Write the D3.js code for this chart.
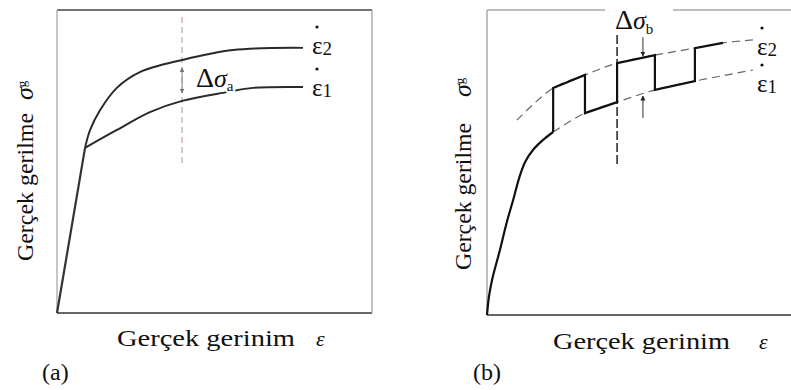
<!DOCTYPE html>
<html>
<head>
<meta charset="utf-8">
<script src="https://cdn.jsdelivr.net/npm/d3@7"></script>
<style>
  html, body { margin: 0; padding: 0; background: #fff; }
  svg { display: block; }
</style>
</head>
<body>
<svg id="chart" width="791" height="390"></svg>
<script>
// ---- Panel (a): flow curves at two strain rates ----
const elasticA = [[0, 0], [8.9, 54.5]];
const rate2A = [[8.9, 54.5], [10.5, 60.4], [13.7, 67.0], [19.0, 74.3], [26.3, 79.5], [39.7, 83.5], [55.9, 86.8], [78.1, 87.5]];
const rate1A = [[8.9, 54.5], [19.0, 60.4], [29.5, 66.3], [39.7, 70.0], [54.0, 72.9], [62.2, 74.3], [78.1, 74.6]];
const markerA = { x: 39.7, y0: 97.7, y1: 48.8, tip2: 80.9, tip1: 72.6 };

// ---- Panel (b): strain-rate jump test ----
const loadingB = [[0, 0], [0.6, 5.9], [1.6, 11.5], [4.1, 21.3], [6.3, 30.5], [8.3, 37.7], [10.2, 44.9],
                  [12.1, 50.2], [14.6, 54.1], [17.8, 57.4], [21.0, 60.0]];
const jumpsB = [[21.0, 60.0], [21.0, 74.4], [31.1, 78.7], [31.1, 66.2], [41.3, 69.8], [41.3, 82.6],
                [53.3, 85.2], [53.3, 73.8], [66.0, 76.7], [66.0, 87.5], [74.9, 89.2]];
const envelope2B = [[9.5, 63.9], [21.0, 74.4], [31.1, 78.7], [41.3, 82.6], [53.3, 85.2], [66.0, 87.5], [74.9, 89.2], [84.4, 90.2]];
const envelope1B = [[21.0, 60.0], [31.1, 66.2], [41.3, 69.8], [53.3, 73.8], [66.0, 76.7], [84.4, 80.3]];
const markerB = { x: 41.3, y0: 91.8, y1: 48.5, ax: 49.5, down: [91.1, 84.9], up: [64.6, 71.8] };

// ---- Text ----
const xLabel = "Gerçek gerinim";
const yLabel = "Gerçek gerilme";
const panelTags = ["(a)", "(b)"];

const FONT = "'Liberation Serif', 'DejaVu Serif', serif";
const svg = d3.select("#chart");

const defs = svg.append("defs");
function arrowMarker(id, color) {
  defs.append("marker")
    .attr("id", id).attr("viewBox", "0 0 10 10").attr("refX", 9).attr("refY", 5)
    .attr("markerWidth", 5).attr("markerHeight", 7).attr("markerUnits", "userSpaceOnUse")
    .attr("orient", "auto-start-reverse")
    .append("path").attr("d", "M0,0L10,5L0,10Z").attr("fill", color);
}
arrowMarker("arrGrey", "#777");
arrowMarker("arrBlack", "#222");

const lineSmooth = (x, y) => d3.line().x(d => x(d[0])).y(d => y(d[1])).curve(d3.curveCatmullRom.alpha(0.5));
const lineStraight = (x, y) => d3.line().x(d => x(d[0])).y(d => y(d[1]));

function txt(g) {
  return g.append("text").style("font-family", FONT).attr("fill", "#111");
}

// Epsilon-dot rate label
function rateLabel(g, x, y, sub) {
  const t = txt(g).attr("x", x).attr("y", y).attr("font-size", 25);
  t.append("tspan").text("ε");
  t.append("tspan").attr("font-size", 19).attr("dy", 1).text(sub);
  g.append("circle").attr("cx", x + 5).attr("cy", y - 27).attr("r", 1.6).attr("fill", "#111");
}

// Axis titles shared by both panels
function axisTitles(g, xl, xr, xBase, epsX, yBaseX, yStart, yEnd, sigY) {
  txt(g).attr("x", xl).attr("y", xBase).attr("font-size", 24)
    .attr("textLength", xr - xl).attr("lengthAdjust", "spacingAndGlyphs").text(xLabel);
  txt(g).attr("x", epsX).attr("y", xBase).attr("font-size", 22)
    .attr("font-style", "italic").text("ε");
  txt(g).attr("transform", `translate(${yBaseX},${yStart}) rotate(-90)`)
    .attr("font-size", 24).attr("textLength", yStart - yEnd).attr("lengthAdjust", "spacingAndGlyphs")
    .text(yLabel);
  const s = txt(g).attr("transform", `translate(${yBaseX},${sigY}) rotate(-90)`).attr("font-size", 26);
  s.append("tspan").attr("font-style", "italic").text("σ");
  s.append("tspan").attr("font-size", 13).attr("dy", -7).text("g");
}

// ================= Panel (a) =================
{
  const x = d3.scaleLinear([0, 100], [57, 372]);
  const y = d3.scaleLinear([0, 100], [313, 10]);
  const g = svg.append("g");

  // frame
  g.append("line").attr("x1", x(0)).attr("x2", x(100)).attr("y1", y(100)).attr("y2", y(100)).attr("stroke", "#444").attr("stroke-width", 1.5);
  g.append("line").attr("x1", x(0)).attr("x2", x(100)).attr("y1", y(0)).attr("y2", y(0)).attr("stroke", "#333").attr("stroke-width", 1.5);
  g.append("line").attr("x1", x(0)).attr("x2", x(0)).attr("y1", y(0)).attr("y2", y(100)).attr("stroke", "#b8b0b8").attr("stroke-width", 1.5);
  g.append("line").attr("x1", x(100)).attr("x2", x(100)).attr("y1", y(0)).attr("y2", y(100)).attr("stroke", "#999").attr("stroke-width", 1.2);

  // dashed reference strain
  g.append("line").attr("x1", x(markerA.x)).attr("x2", x(markerA.x)).attr("y1", y(markerA.y0)).attr("y2", y(markerA.y1))
    .attr("stroke", "#d4b8c4").attr("stroke-width", 1.6).attr("stroke-dasharray", "6,4");

  // curves
  g.append("path").datum(elasticA).attr("d", lineStraight(x, y)).attr("fill", "none").attr("stroke", "#333").attr("stroke-width", 2.2);
  g.append("path").datum(rate2A).attr("d", lineSmooth(x, y)).attr("fill", "none").attr("stroke", "#2a2a2a").attr("stroke-width", 2);
  g.append("path").datum(rate1A).attr("d", lineSmooth(x, y)).attr("fill", "none").attr("stroke", "#2a2a2a").attr("stroke-width", 2);

  // stress difference arrows
  const mid = (markerA.tip2 + markerA.tip1) / 2;
  g.append("line").attr("x1", x(markerA.x)).attr("x2", x(markerA.x)).attr("y1", y(mid)).attr("y2", y(markerA.tip2))
    .attr("stroke", "#888").attr("stroke-width", 1).attr("marker-end", "url(#arrGrey)");
  g.append("line").attr("x1", x(markerA.x)).attr("x2", x(markerA.x)).attr("y1", y(mid)).attr("y2", y(markerA.tip1))
    .attr("stroke", "#888").attr("stroke-width", 1).attr("marker-end", "url(#arrGrey)");

  // Δσ label with white halo over the curve
  const d = txt(g).attr("x", 196).attr("y", 87).attr("font-size", 28)
    .attr("stroke", "#fff").attr("stroke-width", 4).attr("paint-order", "stroke");
  d.append("tspan").text("Δ");
  d.append("tspan").attr("font-style", "italic").attr("font-size", 26).text("σ");
  d.append("tspan").attr("font-size", 15).attr("dy", 4).text("a");

  rateLabel(g, 312, 54, "2");
  rateLabel(g, 312, 96, "1");

  axisTitles(g, 117, 295, 346, 316, 33, 261, 113, 100);
  txt(g).attr("x", 42).attr("y", 380).attr("font-size", 24).text(panelTags[0]);
}

// ================= Panel (b) =================
{
  const x = d3.scaleLinear([0, 100], [487, 802]);
  const y = d3.scaleLinear([0, 100], [315, 10]);
  const g = svg.append("g");

  // frame (top rule broken around the label)
  g.append("line").attr("x1", x(0)).attr("x2", 605).attr("y1", y(100)).attr("y2", y(100)).attr("stroke", "#aaa").attr("stroke-width", 1.5);
  g.append("line").attr("x1", 673).attr("x2", x(100)).attr("y1", y(100)).attr("y2", y(100)).attr("stroke", "#aaa").attr("stroke-width", 1.5);
  g.append("line").attr("x1", x(0)).attr("x2", x(100)).attr("y1", y(0)).attr("y2", y(0)).attr("stroke", "#333").attr("stroke-width", 1.5);
  g.append("line").attr("x1", x(0)).attr("x2", x(0)).attr("y1", y(0)).attr("y2", y(100)).attr("stroke", "#aaa").attr("stroke-width", 1.5);

  // envelopes of the two strain rates
  [envelope2B, envelope1B].forEach(env => {
    g.append("path").datum(env).attr("d", lineSmooth(x, y)).attr("fill", "none")
      .attr("stroke", "#666").attr("stroke-width", 1.2).attr("stroke-dasharray", "8,5");
  });

  // dashed reference strain
  g.append("line").attr("x1", x(markerB.x)).attr("x2", x(markerB.x)).attr("y1", y(markerB.y0)).attr("y2", y(markerB.y1))
    .attr("stroke", "#111").attr("stroke-width", 1.4).attr("stroke-dasharray", "9,3");

  // loading curve and rate jumps
  g.append("path").datum(loadingB).attr("d", lineSmooth(x, y)).attr("fill", "none").attr("stroke", "#111").attr("stroke-width", 2.2);
  g.append("path").datum(jumpsB).attr("d", lineStraight(x, y)).attr("fill", "none").attr("stroke", "#111").attr("stroke-width", 2.2)
    .attr("stroke-linejoin", "miter");

  // stress difference arrows
  g.append("line").attr("x1", x(markerB.ax)).attr("x2", x(markerB.ax)).attr("y1", y(markerB.down[0])).attr("y2", y(markerB.down[1]))
    .attr("stroke", "#333").attr("stroke-width", 1).attr("marker-end", "url(#arrBlack)");
  g.append("line").attr("x1", x(markerB.ax)).attr("x2", x(markerB.ax)).attr("y1", y(markerB.up[0])).attr("y2", y(markerB.up[1]))
    .attr("stroke", "#333").attr("stroke-width", 1).attr("marker-end", "url(#arrBlack)");

  const d = txt(g).attr("x", 615).attr("y", 29).attr("font-size", 28);
  d.append("tspan").text("Δ");
  d.append("tspan").attr("font-style", "italic").attr("font-size", 26).text("σ");
  d.append("tspan").attr("font-size", 15).attr("dy", 5).text("b");

  rateLabel(g, 757, 55, "2");
  rateLabel(g, 757, 92, "1");

  axisTitles(g, 553, 730, 349, 759, 471, 270, 123, 97);
  txt(g).attr("x", 473).attr("y", 380).attr("font-size", 24).text(panelTags[1]);
}
</script>
</body>
</html>
